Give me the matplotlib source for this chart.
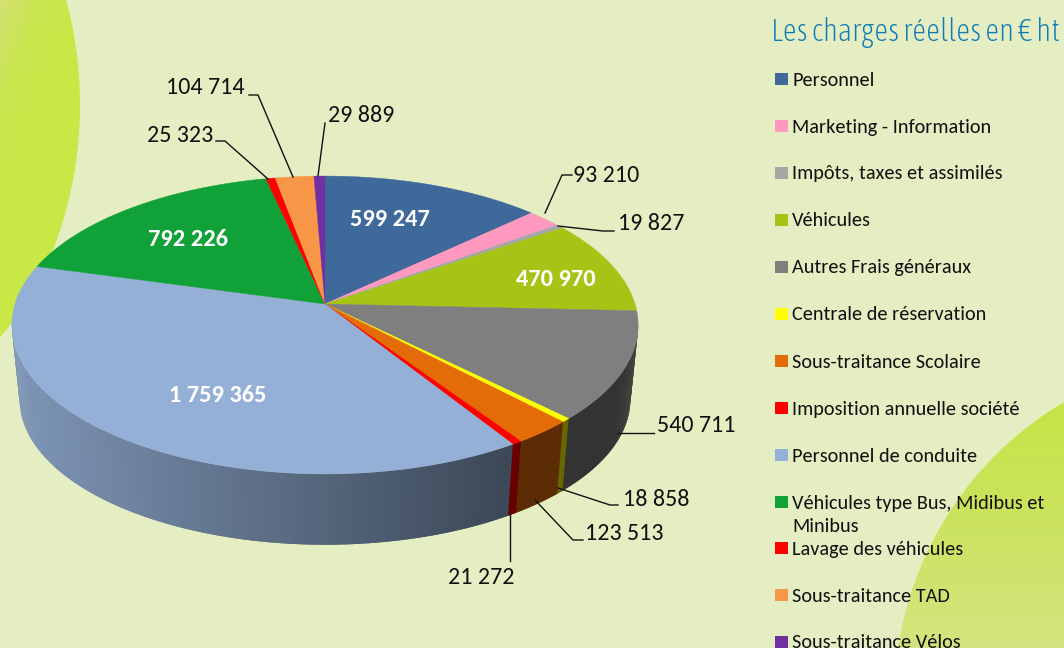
import numpy as np
import matplotlib
matplotlib.use("Agg")
import matplotlib.pyplot as plt
from matplotlib.patches import Polygon, Ellipse

categories = ["Personnel", "Marketing - Information", "Impôts, taxes et assimilés", "Véhicules",
              "Autres Frais généraux", "Centrale de réservation", "Sous-traitance Scolaire",
              "Imposition annuelle société", "Personnel de conduite",
              "Véhicules type Bus, Midibus et\nMinibus", "Lavage des véhicules",
              "Sous-traitance TAD", "Sous-traitance Vélos"]
values = [599247, 93210, 19827, 470970, 540711, 18858, 123513, 21272, 1759365, 792226, 25323, 104714, 29889]
colors = ["#3F689B", "#FF99C0", "#A6A6A6", "#A5C416", "#7F7F7F", "#FFFF00", "#E36C09",
          "#FF0000", "#94B0D6", "#10A238", "#FF0000", "#F79646", "#7030A0"]

# label position and leader line for each slice, same order as values
inside_labels = {0: (390, 220), 3: (556, 279), 8: (218, 396), 9: (188, 239)}
outside_labels = {
    1: ((573, 176), "left", [(572, 175), (562, 175), (545, 213)]),
    2: ((618, 224), "left", [(614, 231), (603, 231), (558, 226)]),
    4: ((657, 425), "left", [(654, 433), (617, 433)]),
    5: ((623, 499), "left", [(618, 505), (610, 505), (558, 488)]),
    6: ((585, 534), "left", [(583, 540), (573, 540), (535, 500)]),
    7: ((481, 577), "center", [(510, 561), (510, 513)]),
    10: ((213, 135), "right", [(216, 141), (225, 141), (268, 179)]),
    11: ((245, 88), "right", [(249, 95), (258, 95), (293, 177)]),
    12: ((328, 116), "left", [(325, 123), (318, 176)]),
}
legend_y = [79, 126, 173, 220, 267, 314, 361, 408, 455, 502, 548, 595, 642]

plt.rcParams["font.family"] = ["Carlito", "Lato", "DejaVu Sans"]

cx, cy = 325, 304
rx, ry = 310, 146
persp = 0.141
bottom_scale = 0.975
depth = 75


def project(phi, scale=1.0, drop=0):
    u = np.sin(phi)
    v = np.cos(phi)
    return cx + scale * rx * u / (1 + persp * v), cy + drop - scale * ry * v / (1 + persp * v)


def fmt(v):
    return f"{v:,}".replace(",", " ")


def gradient_blob(patch, extent, grad, stops):
    ax.add_patch(patch)
    cmap = matplotlib.colors.LinearSegmentedColormap.from_list("blob", stops)
    im = ax.imshow(grad, extent=extent, cmap=cmap, aspect="auto", zorder=1)
    im.set_clip_path(patch)


fig = plt.figure(figsize=(10.64, 6.48), dpi=100, facecolor="#E5EEC2")
ax = fig.add_axes([0, 0, 1, 1])
ax.axis("off")

# background blobs
xx, yy = np.meshgrid(np.linspace(0, 1, 64), np.linspace(0, 1, 64))
gradient_blob(Ellipse((-138, 105), 436, 600, fc="none", ec="none"), [0, 80, 345, 0],
              np.clip(xx + yy * 1.6, 0, 1), ["#D4E172", "#C9E650", "#C8E846"])
gradient_blob(Ellipse((1240, 700), 692, 692, fc="none", ec="none"), [885, 1064, 648, 395],
              yy, ["#C6E545", "#CBE35F", "#D3E57F"])
ax.set_xlim(0, 1064)
ax.set_ylim(648, 0)

fracs = np.array(values) / sum(values)
edges = np.concatenate([[0], np.cumsum(fracs)]) * 2 * np.pi
step = 0.006

# side wall, only the part turned toward the viewer
for i, col in enumerate(colors):
    rgb = np.array(matplotlib.colors.to_rgb(col))
    for a in np.arange(edges[i], edges[i + 1], step):
        if np.cos(a) > -persp:
            continue
        b = a + step * 2  # overlap so no seams show, next quad paints over it
        x0, y0 = project(a)
        x1, y1 = project(b)
        x2, y2 = project(b, bottom_scale, depth)
        x3, y3 = project(a, bottom_scale, depth)
        shade = np.interp(x0, [11, 350, 510, 640], [0.85, 0.55, 0.41, 0.4])
        ax.add_patch(Polygon([(x0, y0), (x1, y1), (x2, y2), (x3, y3)], fc=rgb * shade, ec="none", zorder=2))

# top face
for i, col in enumerate(colors):
    phis = np.linspace(edges[i], edges[i + 1], 80)
    xs, ys = project(phis)
    pts = [(cx, cy)] + list(zip(xs, ys))
    ax.add_patch(Polygon(pts, fc=col, ec=col, lw=0.3, zorder=3))

for i, (x, y) in inside_labels.items():
    ax.text(x, y, fmt(values[i]), color="white", fontsize=17.6, fontweight="bold",
            ha="center", va="center", zorder=5)

for i, (pos, ha, line) in outside_labels.items():
    ax.text(pos[0], pos[1], fmt(values[i]), color="#111111", fontsize=17.3, ha=ha, va="center", zorder=5)
    ax.plot([p[0] for p in line], [p[1] for p in line], color="#111111", lw=1, zorder=4)

ax.text(771, 33, "Les charges réelles en € ht", color="#0F7CB5", fontsize=22.1, fontweight="light",
        family="Asap Condensed", ha="left", va="center", zorder=5)

for name, col, y in zip(categories, colors, legend_y):
    ax.add_patch(Polygon([(775, y - 6), (788, y - 6), (788, y + 6), (775, y + 6)], fc=col, ec="none", zorder=5))
    if "\n" in name:
        first, second = name.split("\n")
        ax.text(792, y + 1, first, color="#111111", fontsize=14.6, ha="left", va="center", zorder=5)
        ax.text(792, y + 24, second, color="#111111", fontsize=14.6, ha="left", va="center", zorder=5)
    else:
        ax.text(792, y + 1, name, color="#111111", fontsize=14.6, ha="left", va="center", zorder=5)

fig.savefig("out.png", dpi=100, facecolor=fig.get_facecolor())
